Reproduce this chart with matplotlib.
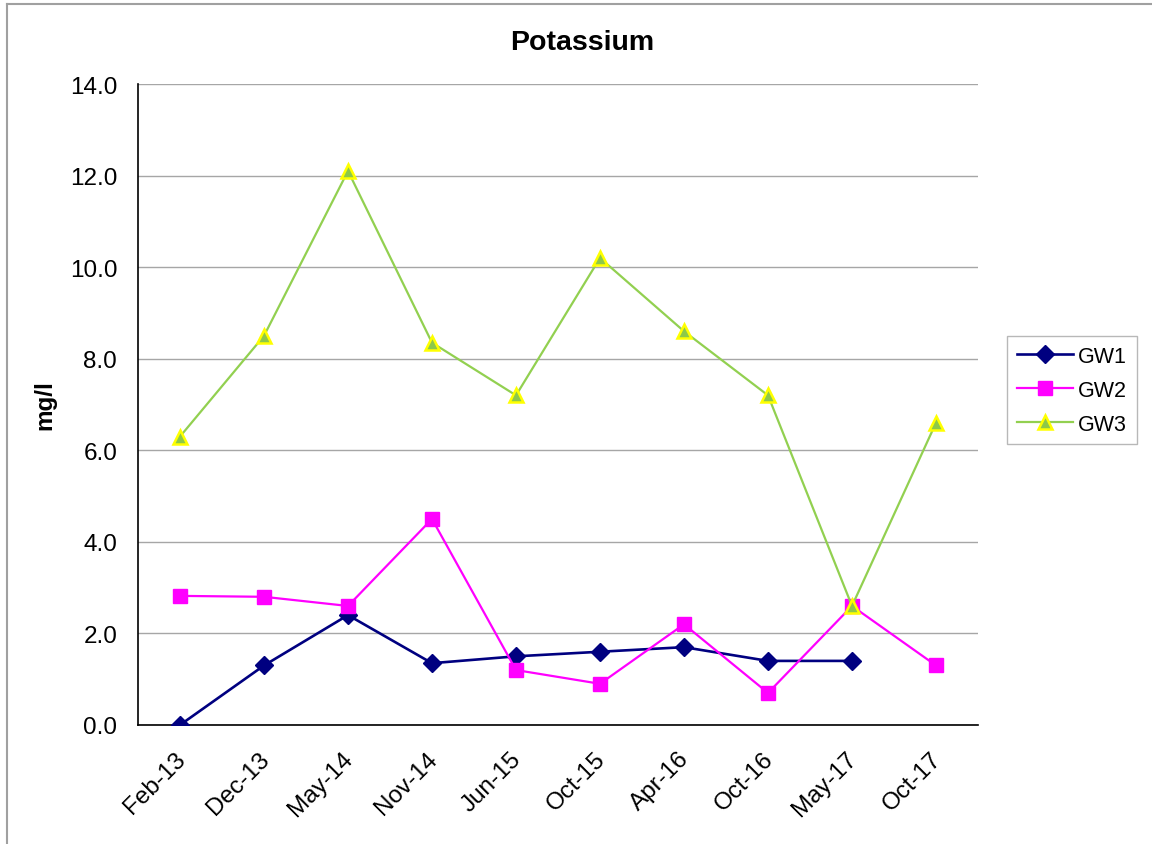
import matplotlib
matplotlib.use("Agg")
import matplotlib.pyplot as plt
from matplotlib.lines import Line2D
import matplotlib.transforms as mtransforms

plt.rcParams['font.family'] = ['Liberation Sans', 'DejaVu Sans']

categories = ["Feb-13", "Dec-13", "May-14", "Nov-14", "Jun-15",
              "Oct-15", "Apr-16", "Oct-16", "May-17", "Oct-17"]
gw1 = [0.0, 1.3, 2.4, 1.35, 1.5, 1.6, 1.7, 1.4, 1.4]
gw2 = [2.82, 2.8, 2.6, 4.5, 1.2, 0.9, 2.2, 0.7, 2.6, 1.3]
gw3 = [6.3, 8.5, 12.1, 8.35, 7.2, 10.2, 8.6, 7.2, 2.6, 6.6]
yticks = [0, 2, 4, 6, 8, 10, 12, 14]

W, H = 1152, 845
fig = plt.figure(figsize=(W / 100, H / 100), dpi=100)
ax = fig.add_axes([138 / W, 1 - 726 / H, (978 - 138) / W, (726 - 85) / H])

x = list(range(len(categories)))
ax.plot(x[:len(gw1)], gw1, color='#000080', lw=1.9, marker='D', ms=9,
        mfc='#000080', mec='#000080', label='GW1', zorder=3)
ax.plot(x[:len(gw2)], gw2, color='#FF00FF', lw=1.6, marker='s', ms=10,
        mfc='#FF00FF', mec='#FF00FF', label='GW2', zorder=3)
ax.plot(x[:len(gw3)], gw3, color='#92D050', lw=1.6, marker='^', ms=10.5,
        mfc='#8DC84A', mec='#FFFF00', mew=1.8, label='GW3', zorder=4)

ax.set_xlim(-0.5, len(categories) - 0.5)
ax.set_ylim(0, 14)
ax.set_yticks(yticks)
ax.set_yticklabels([f"{v:.1f}" for v in yticks])
ax.set_xticks(x)
ax.set_xticklabels(categories, rotation=45, ha='right', va='top',
                   rotation_mode='anchor')
ax.tick_params(axis='both', length=0, labelsize=17.5, colors='black')
ax.tick_params(axis='y', pad=15)
ax.tick_params(axis='x', pad=16)
off = mtransforms.ScaledTranslation(-6 / 100, 0, fig.dpi_scale_trans)
for lbl in ax.get_xticklabels():
    lbl.set_transform(lbl.get_transform() + off)
ax.grid(axis='y', color='#A6A6A6', lw=1.0)
ax.set_axisbelow(True)
for s in ['top', 'right']:
    ax.spines[s].set_visible(False)
for s in ['left', 'bottom']:
    ax.spines[s].set_color('black')
    ax.spines[s].set_linewidth(1.2)

fig.text(582 / W, 1 - 43 / H, "Potassium", ha='center', va='center',
         fontsize=20.5, fontweight='bold')
fig.text(45 / W, 1 - 405 / H, "mg/l", ha='center', va='center',
         rotation=90, fontsize=17.5, fontweight='bold')

leg = ax.legend(loc='upper left', bbox_to_anchor=(1007 / W, 1 - 337 / H),
                bbox_transform=fig.transFigure, fontsize=15.5, frameon=True,
                fancybox=False, edgecolor='#A6A6A6', borderpad=0.45,
                labelspacing=0.6, handlelength=2.6, handletextpad=0.25,
                borderaxespad=0)
leg.get_frame().set_linewidth(1.0)

fig.add_artist(Line2D([7 / W, 7 / W], [0, 1 - 5 / H], transform=fig.transFigure,
                      color='#A0A0A0', lw=1.5))
fig.add_artist(Line2D([7 / W, 1], [1 - 5 / H, 1 - 5 / H], transform=fig.transFigure,
                      color='#A0A0A0', lw=1.5))

fig.savefig("out.png", dpi=100)
